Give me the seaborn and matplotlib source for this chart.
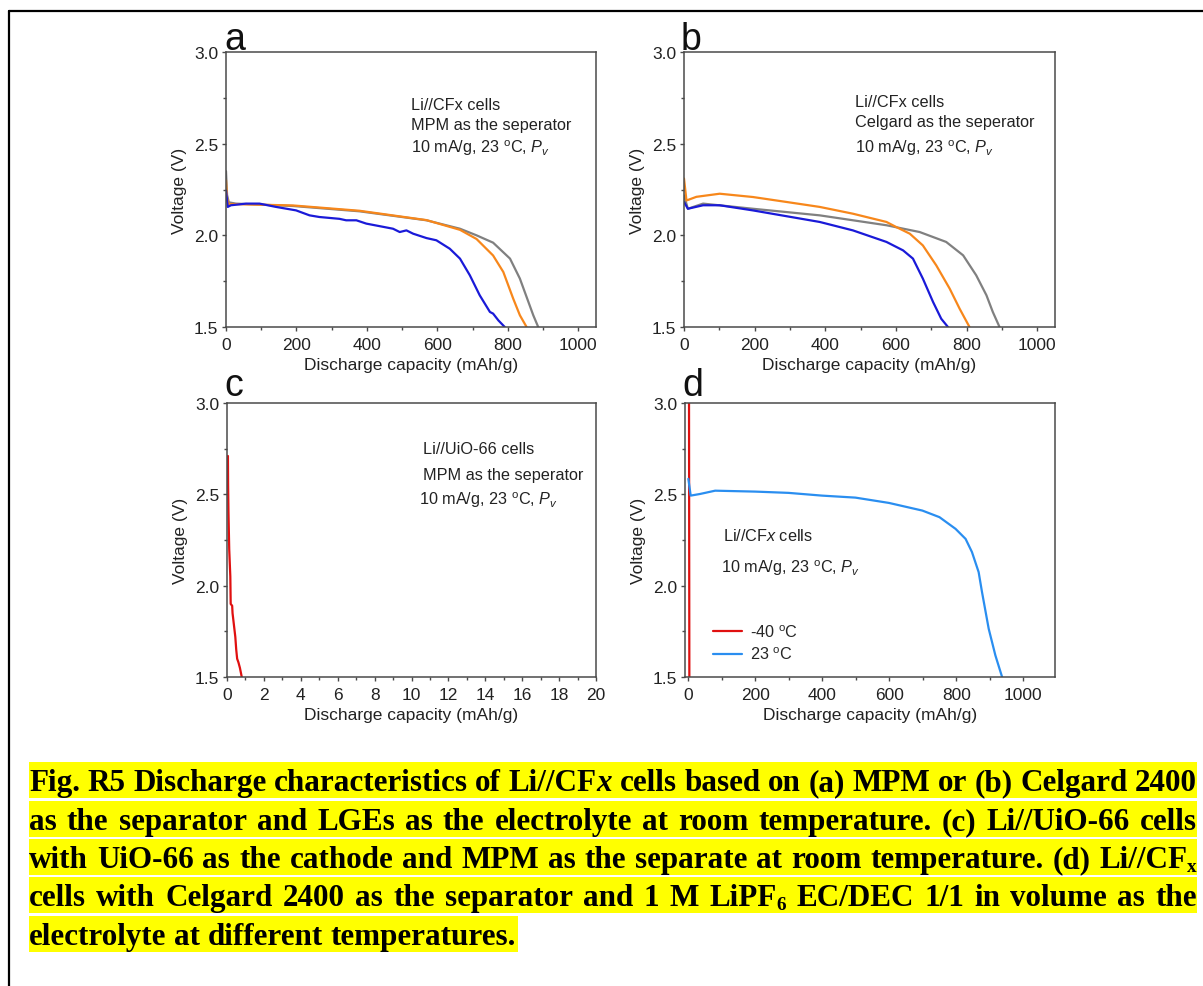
import numpy as np
import pandas as pd
import matplotlib
matplotlib.use('Agg')
import matplotlib.pyplot as plt
from matplotlib.lines import Line2D
from matplotlib.patches import Rectangle
import seaborn as sns

# DATA ENTRY (capacity in mAh/g, voltage in V)
# a: MPM separator
a_gray_cap = [0, 3, 8, 28, 190, 379, 569, 664, 711, 758, 806, 834, 853, 872, 886]
a_gray_v = [2.35, 2.22, 2.18, 2.173, 2.16, 2.131, 2.082, 2.036, 2.0, 1.96, 1.873, 1.764, 1.664, 1.564, 1.5]
a_orange_cap = [0, 3, 8, 28, 190, 379, 569, 664, 711, 758, 787, 815, 834, 853]
a_orange_v = [2.3, 2.2, 2.17, 2.17, 2.163, 2.134, 2.083, 2.03, 1.98, 1.89, 1.8, 1.655, 1.564, 1.5]
a_blue_cap = [0, 5, 14, 57, 95, 142, 199, 237, 265, 322, 341, 370, 398, 474, 493, 512, 531,
              569, 597, 635, 664, 692, 720, 749, 758, 773, 791]
a_blue_v = [2.245, 2.155, 2.164, 2.173, 2.173, 2.155, 2.136, 2.109, 2.1, 2.09, 2.082, 2.082, 2.064,
            2.036, 2.018, 2.027, 2.009, 1.985, 1.973, 1.927, 1.873, 1.782, 1.673, 1.582, 1.573, 1.536, 1.5]

# b: Celgard separator
b_orange_cap = [0, 7, 35, 101, 195, 290, 384, 478, 573, 601, 639, 676, 714, 752, 780, 808]
b_orange_v = [2.31, 2.19, 2.21, 2.227, 2.209, 2.182, 2.155, 2.118, 2.073, 2.045, 2.009, 1.945,
              1.836, 1.709, 1.6, 1.5]
b_gray_cap = [0, 11, 54, 195, 384, 573, 667, 742, 790, 827, 856, 874, 893]
b_gray_v = [2.218, 2.145, 2.173, 2.145, 2.109, 2.055, 2.018, 1.964, 1.891, 1.782, 1.673, 1.582, 1.5]
b_blue_cap = [0, 11, 54, 101, 195, 384, 478, 573, 620, 648, 676, 705, 728, 747]
b_blue_v = [2.182, 2.145, 2.164, 2.164, 2.136, 2.073, 2.027, 1.964, 1.918, 1.873, 1.764, 1.636,
            1.545, 1.5]

# c: Li//UiO-66
c_red_cap = [0.05, 0.06, 0.08, 0.1, 0.12, 0.18, 0.2, 0.28, 0.3, 0.45, 0.5, 0.55, 0.62, 0.7, 0.8]
c_red_v = [2.71, 2.55, 2.4, 2.3, 2.2, 2.05, 1.9, 1.89, 1.85, 1.72, 1.65, 1.6, 1.58, 1.55, 1.5]

# d: temperatures
d_cold_cap = [2, 3]
d_cold_v = [3.0, 1.5]
d_warm_cap = [0, 7, 35, 80, 199, 299, 399, 499, 599, 699, 750, 798, 828, 847, 867, 877, 897, 917, 937]
d_warm_v = [2.585, 2.493, 2.502, 2.52, 2.515, 2.508, 2.493, 2.482, 2.453, 2.411, 2.375, 2.311,
            2.256, 2.184, 2.074, 1.965, 1.764, 1.618, 1.5]

caption_lines = [
    [["Fig."], ["R5"], ["Discharge"], ["characteristics"], ["of"], [("Li//CF", ""), ("x", "it")],
     ["cells"], ["based"], ["on"], ["(a)"], ["MPM"], ["or"], ["(b)"], ["Celgard"], ["2400"]],
    "as the separator and LGEs as the electrolyte at room temperature. (c) Li//UiO-66 cells",
    [["with"], ["UiO-66"], ["as"], ["the"], ["cathode"], ["and"], ["MPM"], ["as"], ["the"], ["separate"],
     ["at"], ["room"], ["temperature."], ["(d)"], [("Li//CF", ""), ("x", "sub")]],
    [["cells"], ["with"], ["Celgard"], ["2400"], ["as"], ["the"], ["separator"], ["and"], ["1"], ["M"],
     [("LiPF", ""), ("6", "sub")], ["EC/DEC"], ["1/1"], ["in"], ["volume"], ["as"], ["the"]],
    "electrolyte at different temperatures.",
]

W, H = 1203, 987
sns.set_theme(style='ticks')
plt.rcParams['font.family'] = ['Liberation Sans', 'DejaVu Sans']
plt.rcParams['mathtext.fontset'] = 'custom'
plt.rcParams['mathtext.rm'] = 'Liberation Sans'
plt.rcParams['mathtext.it'] = 'Liberation Sans:italic'
plt.rcParams['axes.edgecolor'] = '#4a4a4a'
plt.rcParams['axes.linewidth'] = 1.1

fig = plt.figure(figsize=(W / 100, H / 100), dpi=100)
fig.patch.set_facecolor('white')


def px_rect(l, t, r, b):
    return [l / W, 1 - b / H, (r - l) / W, (b - t) / H]


def curve(ax, cap, volt, color, label=None):
    df = pd.DataFrame({'cap': cap, 'volt': volt})
    sns.lineplot(data=df, x='cap', y='volt', ax=ax, color=color, lw=1.6, sort=False,
                 estimator=None, label=label, legend=False)


def style_axes(ax, xlim, major, minor):
    ax.set_xlim(*xlim)
    ax.set_ylim(1.5, 3.0)
    ax.set_xticks(np.arange(0, xlim[1] + 1e-9, major))
    ax.set_xticks(np.arange(0, xlim[1] + 1e-9, minor), minor=True)
    ax.set_yticks([1.5, 2.0, 2.5, 3.0])
    ax.set_yticks([1.75, 2.25, 2.75], minor=True)
    ax.yaxis.set_major_formatter(matplotlib.ticker.FormatStrFormatter('%.1f'))
    ax.tick_params(which='major', length=3, width=1, color='#4a4a4a', labelsize=12.5, pad=2.5,
                   labelcolor='#222222')
    ax.tick_params(axis='x', which='major', pad=4)
    ax.tick_params(which='minor', length=2, width=1, color='#4a4a4a')
    ax.set_xlabel('Discharge capacity (mAh/g)', fontsize=12.5, labelpad=4, color='#222222')
    ax.set_ylabel('Voltage (V)', fontsize=12.5, labelpad=5, color='#222222')
    for s in ax.spines.values():
        s.set_visible(True)


cond = '10 mA/g, 23 $^{\\rm o}$C, $\\mathit{P}_{\\mathit{v}}$'
note = dict(fontsize=11.7, va='center', color='#222222')

ax_a = fig.add_axes(px_rect(226, 53, 596, 328))
curve(ax_a, a_gray_cap, a_gray_v, '#808080')
curve(ax_a, a_orange_cap, a_orange_v, '#f7871b')
curve(ax_a, a_blue_cap, a_blue_v, '#1a1ad8')
style_axes(ax_a, (0, 1050), 200, 100)
for y, s in [(2.716, 'Li//CFx cells'), (2.607, 'MPM as the seperator'), (2.48, cond)]:
    ax_a.text(525, y, s, **note)

ax_b = fig.add_axes(px_rect(684, 53, 1055, 328))
curve(ax_b, b_gray_cap, b_gray_v, '#808080')
curve(ax_b, b_orange_cap, b_orange_v, '#f7871b')
curve(ax_b, b_blue_cap, b_blue_v, '#1a1ad8')
style_axes(ax_b, (0, 1050), 200, 100)
for y, s in [(2.73, 'Li//CFx cells'), (2.62, 'Celgard as the seperator'), (2.48, cond)]:
    ax_b.text(484, y, s, **note)

ax_c = fig.add_axes(px_rect(227, 404, 596, 678))
curve(ax_c, c_red_cap, c_red_v, '#e01010')
style_axes(ax_c, (0, 20), 2, 1)
ax_c.text(10.6, 2.75, 'Li//UiO-66 cells', **note)
ax_c.text(10.6, 2.61, 'MPM as the seperator', **note)
ax_c.text(10.4, 2.476, cond, **note)

ax_d = fig.add_axes(px_rect(685, 404, 1055, 678))
curve(ax_d, d_cold_cap, d_cold_v, '#e01010', label='-40 $^{\\rm o}$C')
curve(ax_d, d_warm_cap, d_warm_v, '#2a8ef0', label='23 $^{\\rm o}$C')
style_axes(ax_d, (-10, 1095), 200, 100)
ax_d.set_xticks(np.arange(0, 1001, 200))
ax_d.set_xticks(np.arange(0, 1095, 100), minor=True)
ax_d.text(103, 2.28, 'Li//CF$\\mathit{x}$ cells', **note)
ax_d.text(97, 2.10, cond, **note)
ax_d.legend(loc='center left', bbox_to_anchor=(0.076, 0.124), frameon=False, fontsize=11.7,
            handlelength=1.8, handletextpad=0.5, borderpad=0, borderaxespad=0, labelspacing=0.35)

for lab, x, y in [('a', 224, 50), ('b', 681, 50), ('c', 224, 396), ('d', 682, 396)]:
    fig.text(x / W, 1 - y / H, lab, fontsize=27, va='baseline', ha='left', color='#111111')

# frame around the figure
fig.add_artist(Line2D([9 / W, 1], [1 - 12 / H, 1 - 12 / H], transform=fig.transFigure, color='black', lw=1.6))
fig.add_artist(Line2D([9 / W, 9 / W], [0, 1 - 12 / H], transform=fig.transFigure, color='black', lw=1.6))

# CAPTION, justified word by word
renderer = fig.canvas.get_renderer()
cap_size = 22.4
left, right = 29, 1197
box_tops = [763, 802, 840, 878, 917]
box_h = 36


def make_run(s, kind):
    kw = dict(fontsize=cap_size * (0.62 if kind == 'sub' else 1), fontweight='bold',
              family=['Liberation Serif', 'DejaVu Serif'], va='baseline', ha='left', color='black')
    if kind == 'it':
        kw['fontstyle'] = 'italic'
    t = fig.text(0, 0, s, **kw)
    return t, t.get_window_extent(renderer).width


probe1 = fig.text(0, 0, 'a a', fontsize=cap_size, fontweight='bold', family='Liberation Serif')
probe2 = fig.text(0, 0, 'aa', fontsize=cap_size, fontweight='bold', family='Liberation Serif')
space_w = probe1.get_window_extent(renderer).width - probe2.get_window_extent(renderer).width
probe1.remove()
probe2.remove()

for i, line in enumerate(caption_lines):
    if isinstance(line, str):
        line = [[w] for w in line.split()]
    words = []
    for w in line:
        runs = []
        for r in w:
            s, kind = (r, '') if isinstance(r, str) else r
            runs.append((make_run(s, kind), kind))
        words.append(runs)
    widths = [sum(r[0][1] for r in runs) for runs in words]
    last = i == len(caption_lines) - 1
    gap = space_w if last else (right - left - sum(widths)) / (len(words) - 1)
    top = box_tops[i]
    base = top + box_h - 8
    x = left
    for runs, wd in zip(words, widths):
        for (t, w), kind in runs:
            yy = base + (4 if kind == 'sub' else 0)
            t.set_position((x / W, 1 - yy / H))
            x += w
        x += gap
    x_end = right if not last else x - gap + 2
    fig.patches.append(Rectangle((left / W, 1 - (top + box_h) / H), (x_end - left) / W, box_h / H,
                                 transform=fig.transFigure, facecolor='#ffff00', edgecolor='none', zorder=-1))

fig.savefig('out.png', dpi=100, facecolor='white')
